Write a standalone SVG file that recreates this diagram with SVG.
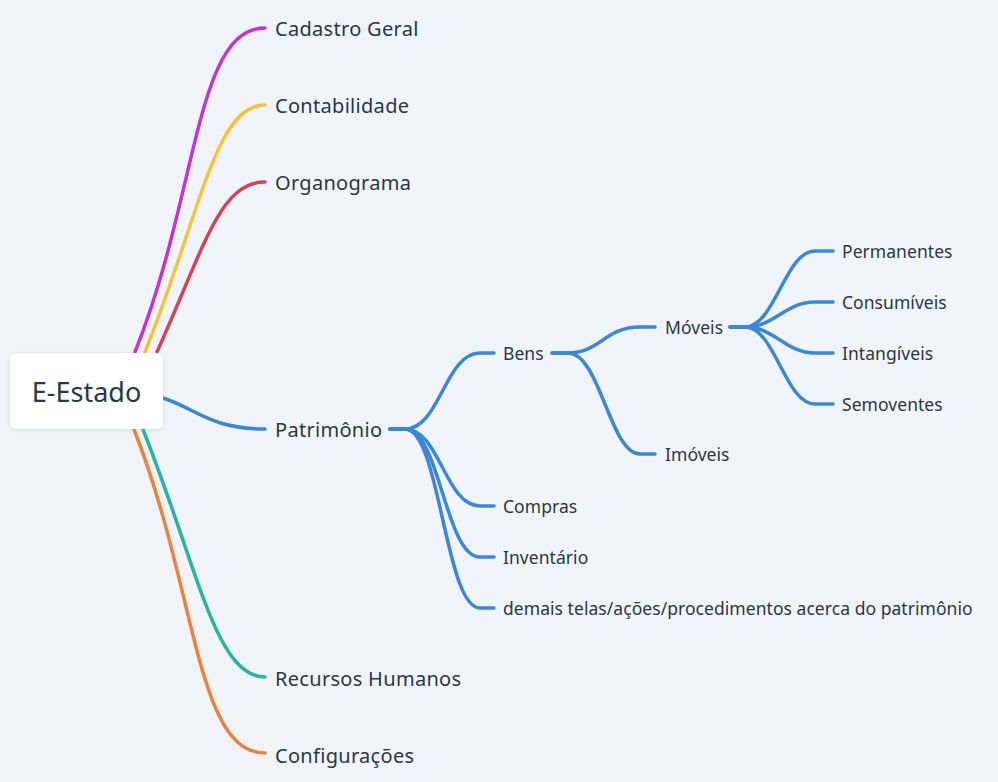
<svg xmlns="http://www.w3.org/2000/svg" width="998" height="782" viewBox="0 0 998 782">
  <defs>
    <filter id="sh" x="-20%" y="-30%" width="140%" height="160%">
      <feDropShadow dx="0" dy="1" stdDeviation="2" flood-color="#9aa5b4" flood-opacity="0.35"/>
    </filter>
    <style>
      .c { fill: none; stroke-width: 3.5; stroke-linecap: round; stroke-linejoin: round; }
      .t1 { font-family: "Noto Sans", "Open Sans", sans-serif; font-size: 20px; letter-spacing: 0.3px; fill: #2b3647; }
      .t2 { font-family: "Noto Sans", "Open Sans", sans-serif; font-size: 17.5px; letter-spacing: 0.05px; fill: #2b3647; }
      .t0 { font-family: "Noto Sans", "Open Sans", sans-serif; font-size: 27px; fill: #2b3647; }
      .pu { stroke: #C034D4; }
      .ye { stroke: #F6C23A; }
      .re { stroke: #D0445A; }
      .bl { stroke: #3A87D9; }
      .te { stroke: #2AB3A0; }
      .or { stroke: #E9823D; }
    </style>
  </defs>
  <rect x="0" y="0" width="998" height="782" fill="#f0f4f8"/>

  <g id="connectors">
    <path class="c pu" d="M135 352 C199 192 195 28 265 28"/>
    <path class="c ye" d="M145 352 C201 212 215 105 265 105"/>
    <path class="c re" d="M157 352 C205 245 220 182 265 182"/>
    <path class="c bl" d="M163 398 C195 408 210 429 265 429"/>
    <path class="c te" d="M142 427 C198 567 215 677 265 677"/>
    <path class="c or" d="M133 427 C197 587 195 753 265 753"/>

    <path class="c bl" d="M390 429 L405 429 C440 429 445 353 480 353 L494 353"/>
    <path class="c bl" d="M390 429 L405 429 C440 429 445 506 480 506 L494 506"/>
    <path class="c bl" d="M390 429 L405 429 C440 429 445 557 480 557 L494 557"/>
    <path class="c bl" d="M390 429 L405 429 C440 429 445 608 480 608 L494 608"/>

    <path class="c bl" d="M552 353 L568 353 C600 353 605 327 640 327 L655 327"/>
    <path class="c bl" d="M552 353 L568 353 C600 353 610 454 640 454 L655 454"/>

    <path class="c bl" d="M730 327 L745 327 C775 327 785 251 815 251 L833 251"/>
    <path class="c bl" d="M730 327 L745 327 C775 327 785 302 815 302 L833 302"/>
    <path class="c bl" d="M730 327 L745 327 C775 327 785 353 815 353 L833 353"/>
    <path class="c bl" d="M730 327 L745 327 C775 327 785 404 815 404 L833 404"/>
  </g>

  <g id="root">
    <rect x="10" y="353" width="153" height="76" rx="6" fill="#ffffff" filter="url(#sh)"/>
    <text class="t0" x="86.5" y="402" text-anchor="middle">E-Estado</text>
  </g>

  <g id="cadastro-geral"><text class="t1" x="275" y="36">Cadastro Geral</text></g>
  <g id="contabilidade"><text class="t1" x="275" y="113">Contabilidade</text></g>
  <g id="organograma"><text class="t1" x="275" y="190">Organograma</text></g>
  <g id="patrimonio"><text class="t1" x="275" y="437">Patrimônio</text></g>
  <g id="recursos-humanos"><text class="t1" x="275" y="686">Recursos Humanos</text></g>
  <g id="configuracoes"><text class="t1" x="275" y="763">Configurações</text></g>

  <g id="bens"><text class="t2" x="503" y="360">Bens</text></g>
  <g id="compras"><text class="t2" x="503" y="513">Compras</text></g>
  <g id="inventario"><text class="t2" x="503" y="564">Inventário</text></g>
  <g id="demais"><text class="t2" x="503" y="615">demais telas/ações/procedimentos acerca do patrimônio</text></g>

  <g id="moveis"><text class="t2" x="665" y="334">Móveis</text></g>
  <g id="imoveis"><text class="t2" x="665" y="461">Imóveis</text></g>

  <g id="permanentes"><text class="t2" x="842" y="258">Permanentes</text></g>
  <g id="consumiveis"><text class="t2" x="842" y="309">Consumíveis</text></g>
  <g id="intangiveis"><text class="t2" x="842" y="360">Intangíveis</text></g>
  <g id="semoventes"><text class="t2" x="842" y="411">Semoventes</text></g>
</svg>
